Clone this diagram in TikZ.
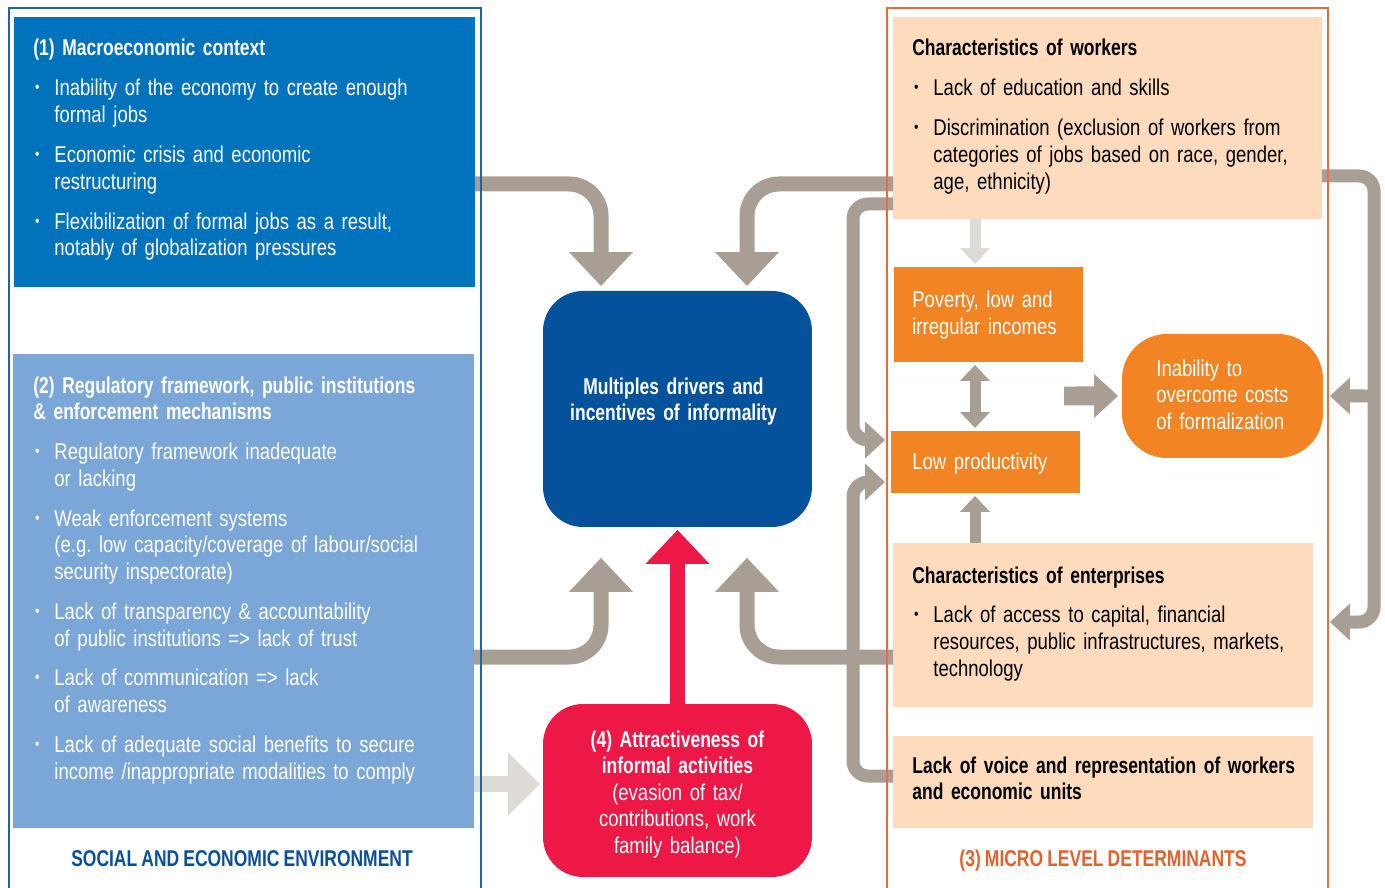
\documentclass[tikz,border=0pt]{standalone}
\usepackage{fontspec}
\setmainfont{Liberation Sans}[FakeStretch=0.81,WordSpace=0.8]
\newfontfamily\headfont{Liberation Sans Bold}[FakeStretch=0.765,WordSpace=0.85]
\usetikzlibrary{arrows.meta}
\frenchspacing

\definecolor{macroblue}{HTML}{0173BD}
\definecolor{regblue}{HTML}{7BA7D8}
\definecolor{frameblue}{HTML}{1F63AE}
\definecolor{driverblue}{HTML}{04529C}
\definecolor{labelblue}{HTML}{0B4F9A}
\definecolor{attractred}{HTML}{ED1846}
\definecolor{microorange}{HTML}{F38423}
\definecolor{micropeach}{HTML}{FDDBBC}
\definecolor{frameorange}{HTML}{E0703F}
\definecolor{labelorange}{HTML}{E0622E}
\definecolor{arrowgray}{HTML}{A89E94}
\definecolor{arrowlight}{HTML}{DEDAD6}

% bullet point with hanging indent
\newcommand{\bitem}[1]{\par\vspace{7.6pt}\hangindent=12pt\hangafter=1
  \noindent\makebox[12pt][l]{\hspace{1pt}\raisebox{0.25ex}{\fontsize{9}{9}\selectfont\textbullet}}#1\par}

\begin{document}
\begin{tikzpicture}
[x=0.02cm,y=-0.02cm,
  boxdecorate/.style={shape=rectangle,anchor=north west,inner sep=0pt,outer sep=0pt},
  textdecorate/.style={anchor=base west,text width=9cm,align=left,inner sep=0pt,
    font={\fontsize{13}{15.15}\selectfont}},
  centerdecorate/.style={anchor=base,text width=5.2cm,align=center,inner sep=0pt,
    font={\fontsize{13}{15.15}\selectfont}},
  titledecorate/.style={anchor=base,inner sep=0pt,font={\fontsize{13}{15.15}\headfont}},
  bigarrow/.style={draw=arrowgray,line width=0.3cm,rounded corners=0.64cm,
    -{Triangle[width=1.28cm,length=0.68cm,line width=0pt]}},
  sidearrow/.style={draw=arrowgray,line width=0.26cm,rounded corners=0.3cm,
    -{Triangle[width=0.74cm,length=0.4cm,line width=0pt]}},
  linkarrow/.style={draw=arrowgray,line width=0.22cm,
    -{Triangle[width=0.6cm,length=0.32cm,line width=0pt]}},
  framedecorate/.style={line width=0.03cm}]
\useasboundingbox (0,0) rectangle (1385,888);
%%% social and economic environment
% boxes
\node (macro) at (14,17) [boxdecorate,fill=macroblue,minimum width=9.22cm,minimum height=5.4cm] {};
\node (reg) at (13,354) [boxdecorate,fill=regblue,minimum width=9.22cm,minimum height=9.48cm] {};
% texts
\node (macrotext) at ([shift={(19,39)}]macro.north west) [textdecorate,text=white]
  {{\headfont (1) Macroeconomic context}%
   \bitem{Inability of the economy to create enough\newline formal jobs}%
   \bitem{Economic crisis and economic\newline restructuring}%
   \bitem{Flexibilization of formal jobs as a result,\newline notably of globalization pressures}};
\node (regtext) at ([shift={(20,39)}]reg.north west) [textdecorate,text=white]
  {{\headfont (2) Regulatory framework, public institutions\newline \& enforcement mechanisms}%
   \bitem{Regulatory framework inadequate\newline or lacking}%
   \bitem{Weak enforcement systems\newline (e.g. low capacity/coverage of labour/social\newline security inspectorate)}%
   \bitem{Lack of transparency \& accountability\newline of public institutions => lack of trust}%
   \bitem{Lack of communication => lack\newline of awareness}%
   \bitem{Lack of adequate social benefits to secure\newline income /inappropriate modalities to comply}};
\node (socialtitle) at (242,866) [titledecorate,text=labelblue] {SOCIAL AND ECONOMIC ENVIRONMENT};
%
%%% drivers in the middle
\node (drivers) at (543,291) [boxdecorate,fill=driverblue,rounded corners=0.8cm,minimum width=5.38cm,minimum height=4.72cm] {};
\node (driverstext) at ([shift={(-4,103)}]drivers.north) [centerdecorate,text=white]
  {\headfont Multiples drivers and\\incentives of informality};
\node (attract) at (543,704) [boxdecorate,fill=attractred,rounded corners=0.8cm,minimum width=5.38cm,minimum height=3.46cm] {};
\node (attracttext) at ([shift={(0,43)}]attract.north) [centerdecorate,text=white]
  {{\headfont (4) Attractiveness of\\informal activities}\\(evasion of tax/\\contributions, work\\family balance)};
%
%%% micro level determinants
% boxes
\node (workers) at (893,17) [boxdecorate,fill=micropeach,minimum width=8.58cm,minimum height=4.04cm] {};
\node (poverty) at (894,267) [boxdecorate,fill=microorange,minimum width=3.78cm,minimum height=1.9cm] {};
\node (lowprod) at (891,431) [boxdecorate,fill=microorange,minimum width=3.78cm,minimum height=1.24cm] {};
\node (inability) at (1122,334) [boxdecorate,fill=microorange,rounded corners=0.9cm,minimum width=4.02cm,minimum height=2.48cm] {};
\node (enterprises) at (893,543) [boxdecorate,fill=micropeach,minimum width=8.4cm,minimum height=3.28cm] {};
\node (voice) at (893,736) [boxdecorate,fill=micropeach,minimum width=8.4cm,minimum height=1.84cm] {};
% texts
\node (workerstext) at ([shift={(19,39)}]workers.north west) [textdecorate]
  {{\headfont Characteristics of workers}%
   \bitem{Lack of education and skills}%
   \bitem{Discrimination (exclusion of workers from\newline categories of jobs based on race, gender,\newline age, ethnicity)}};
\node (povertytext) at ([shift={(18,41)}]poverty.north west) [textdecorate,text=white]
  {Poverty, low and\newline irregular incomes};
\node (lowprodtext) at ([shift={(21,38)}]lowprod.north west) [textdecorate,text=white]
  {Low productivity};
\node (inabilitytext) at ([shift={(34,42)}]inability.north west) [textdecorate,text=white]
  {Inability to\newline overcome costs\newline of formalization};
\node (enterprisestext) at ([shift={(19,40)}]enterprises.north west) [textdecorate]
  {{\headfont Characteristics of enterprises}%
   \bitem{Lack of access to capital, financial\newline resources, public infrastructures, markets,\newline technology}};
\node (voicetext) at ([shift={(19,37)}]voice.north west) [textdecorate]
  {\headfont Lack of voice and representation of workers\newline and economic units};
\node (microtitle) at (1103,866) [titledecorate,text=labelorange] {(3) MICRO LEVEL DETERMINANTS};
\coordinate (costs) at (1064,396);
%
%%% arrows
% into the drivers box
\draw[bigarrow,shorten >=0.1cm] (macro.east |- 0,184) -| (drivers.north -| 601,0);
\draw[bigarrow,shorten >=0.1cm] (workers.west |- 0,184) -| (drivers.north -| 747,0);
\draw[bigarrow,shorten >=0.62cm] (reg.east |- 0,657) -| (drivers.south -| 601,0);
\draw[bigarrow,shorten >=0.62cm] (enterprises.west |- 0,657) -| (drivers.south -| 747,0);
\draw[bigarrow,draw=attractred,shorten >=0.06cm] (attract.north) -- (drivers.south -| attract.north);
\draw[draw=arrowlight,line width=0.32cm,shorten >=0.06cm,
  -{Triangle[width=1.26cm,length=0.64cm,line width=0pt]}] (reg.east |- 0,784) -- (attract.west |- 0,784);
% loops into low productivity
\draw[sidearrow,shorten >=0.12cm] (workers.west |- 0,204) -- (853,204) -- (853,440) -- (lowprod.west |- 0,440);
\draw[sidearrow,shorten >=0.12cm] (voice.west |- 0,776) -- (853,776) -- (853,482) -- (lowprod.west |- 0,482);
% feedback on the right
\draw[sidearrow,shorten >=0.34cm] (workers.east |- 0,176) -- (1374,176) -- (1374,622) -- (enterprises.east |- 0,622);
\draw[sidearrow,shorten >=0.14cm] (1374,396) -- (inability.east);
% middle column
\draw[linkarrow,draw=arrowlight,shorten >=0.06cm] (workers.south -| 975,0) -- (poverty.north -| 975,0);
\draw[linkarrow,{Triangle[width=0.6cm,length=0.32cm,line width=0pt]}-{Triangle[width=0.6cm,length=0.32cm,line width=0pt]},
  shorten <=0.06cm,shorten >=0.06cm] (poverty.south -| 975,0) -- (lowprod.north -| 975,0);
\draw[linkarrow,shorten >=0.06cm] (enterprises.north -| 975,0) -- (lowprod.south -| 975,0);
\draw[draw=arrowgray,line width=0.38cm,shorten >=0.08cm,
  -{Triangle[width=0.88cm,length=0.48cm,line width=0pt]}] (costs) -- (inability.west);
%
%%% frames
\draw[framedecorate,frameblue] (9,890) -- (9,8) -- (481,8) -- (481,890);
\draw[framedecorate,frameorange] (887,890) -- (887,8) -- (1328,8) -- (1328,890);
\end{tikzpicture}
\end{document}
